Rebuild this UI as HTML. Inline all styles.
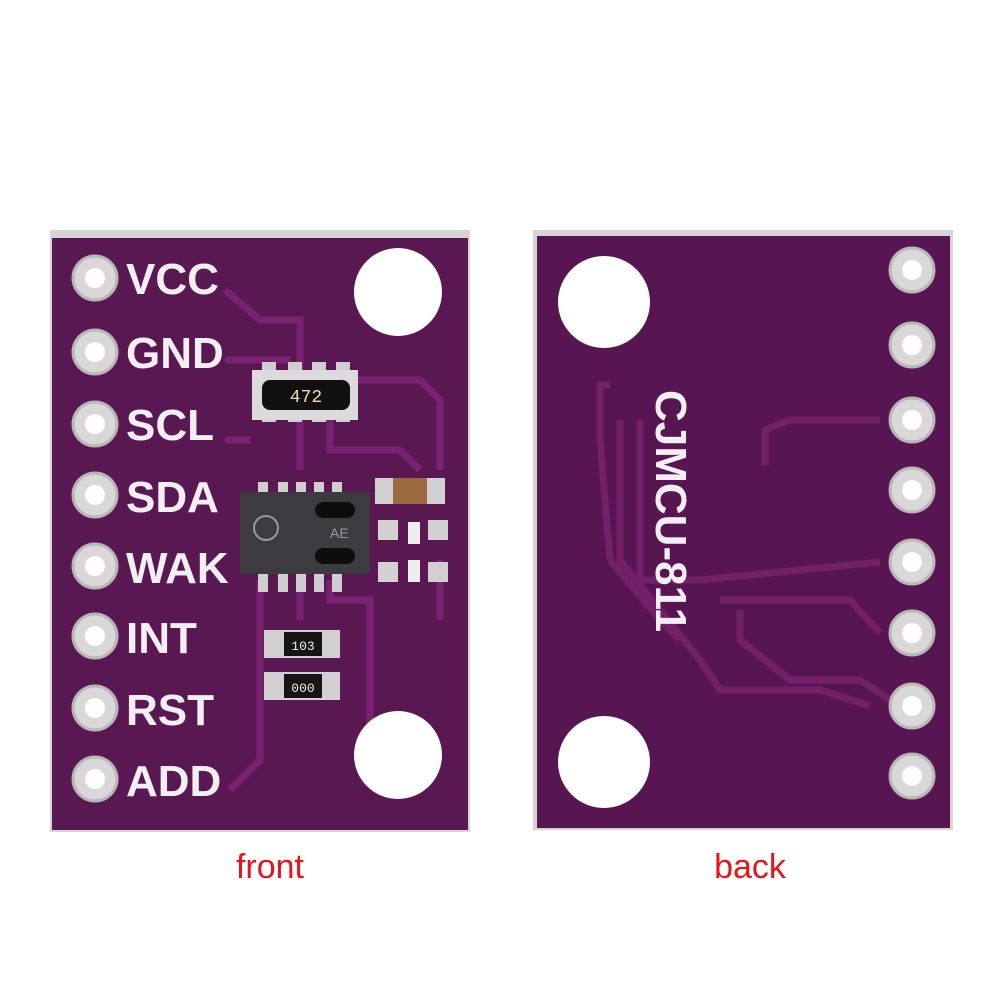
<!DOCTYPE html>
<html><head><style>body{margin:0;background:#fff}svg{display:block}</style></head><body>
<svg width="1001" height="1001" viewBox="0 0 1001 1001" xmlns="http://www.w3.org/2000/svg">
<rect width="1001" height="1001" fill="#fff"/>
<!-- FRONT -->
<rect x="50" y="230" width="420" height="602" fill="#d8d4d6"/>
<rect x="52" y="238" width="416" height="592" fill="#5a1853"/>
<g stroke="#7a2272" stroke-width="7" fill="none">
<path d="M225 290 L260 320 L300 320 L300 370"/>
<path d="M225 360 L290 360"/>
<path d="M355 380 L420 380 L440 400 L440 470"/>
<path d="M300 420 L300 470"/>
<path d="M330 420 L330 450 L360 450 L400 450 L420 470"/>
<path d="M225 440 L250 440"/>
<path d="M260 580 L260 760 L230 790"/>
<path d="M300 580 L300 620"/>
<path d="M330 580 L330 600 L370 600 L370 760"/>
<path d="M440 560 L440 620"/>
</g>
<g fill="#d9d7d8" stroke="#b9b6b8" stroke-width="3">
<circle cx="95" cy="278" r="22"/><circle cx="95" cy="352" r="22"/><circle cx="95" cy="424" r="22"/><circle cx="95" cy="495" r="22"/>
<circle cx="95" cy="566" r="22"/><circle cx="95" cy="636" r="22"/><circle cx="95" cy="708" r="22"/><circle cx="95" cy="779" r="22"/>
</g>
<g fill="#fff">
<circle cx="95" cy="278" r="10"/><circle cx="95" cy="352" r="10"/><circle cx="95" cy="424" r="10"/><circle cx="95" cy="495" r="10"/>
<circle cx="95" cy="566" r="10"/><circle cx="95" cy="636" r="10"/><circle cx="95" cy="708" r="10"/><circle cx="95" cy="779" r="10"/>
<circle cx="398" cy="292" r="44"/><circle cx="398" cy="755" r="44"/>
</g>
<g font-family="Liberation Sans, sans-serif" font-size="44" fill="#f2eef2" font-weight="bold">
<text x="126" y="294">VCC</text><text x="126" y="368">GND</text><text x="126" y="440">SCL</text><text x="126" y="512">SDA</text>
<text x="126" y="583">WAK</text><text x="126" y="653">INT</text><text x="126" y="725">RST</text><text x="126" y="796">ADD</text>
</g>
<!-- resistor array -->
<g fill="#cfcdcf"><rect x="262" y="362" width="14" height="60"/><rect x="288" y="362" width="14" height="60"/><rect x="312" y="362" width="14" height="60"/><rect x="336" y="362" width="14" height="60"/></g>
<rect x="252" y="370" width="106" height="50" fill="#dcdadc"/>
<rect x="262" y="380" width="88" height="30" rx="8" fill="#121010"/>
<text x="306" y="402" font-family="Liberation Mono, monospace" font-size="18" fill="#e8dcc0" text-anchor="middle">472</text>
<!-- sensor chip -->
<g fill="#cfcdcf"><rect x="258" y="482" width="10" height="110"/><rect x="278" y="482" width="10" height="110"/><rect x="296" y="482" width="10" height="110"/><rect x="314" y="482" width="10" height="110"/><rect x="332" y="482" width="10" height="110"/></g>
<rect x="240" y="492" width="130" height="82" fill="#3c3b40"/>
<rect x="315" y="502" width="40" height="16" rx="8" fill="#0e0d0c"/>
<rect x="315" y="548" width="40" height="16" rx="8" fill="#0e0d0c"/>
<text x="330" y="538" font-family="Liberation Sans, sans-serif" font-size="14" fill="#999">AE</text>
<circle cx="266" cy="528" r="12" fill="none" stroke="#999" stroke-width="2"/>
<!-- cap -->
<rect x="375" y="478" width="70" height="26" fill="#d2d0d2"/>
<rect x="393" y="478" width="34" height="26" fill="#9b6a40"/>
<g fill="#d2d0d2"><rect x="378" y="520" width="20" height="20"/><rect x="428" y="520" width="20" height="20"/><rect x="378" y="562" width="20" height="20"/><rect x="428" y="562" width="20" height="20"/></g>
<rect x="408" y="522" width="12" height="22" fill="#eee"/><rect x="408" y="560" width="12" height="22" fill="#eee"/>
<!-- resistors -->
<rect x="264" y="630" width="76" height="28" fill="#d2d0d2"/><rect x="284" y="632" width="38" height="24" fill="#161414"/>
<text x="303" y="650" font-family="Liberation Mono, monospace" font-size="13" fill="#eee" text-anchor="middle">103</text>
<rect x="264" y="672" width="76" height="28" fill="#d2d0d2"/><rect x="284" y="674" width="38" height="24" fill="#161414"/>
<text x="303" y="692" font-family="Liberation Mono, monospace" font-size="13" fill="#eee" text-anchor="middle">000</text>
<!-- BACK -->
<rect x="533" y="230" width="420" height="600" fill="#d8d4d6"/>
<rect x="537" y="236" width="413" height="592" fill="#571651"/>
<g stroke="#722068" stroke-width="7" fill="none">
<path d="M610 385 L600 385 L600 440 L610 560 L660 620 L680 640"/>
<path d="M620 420 L620 560 L700 660 L720 690 L820 690 L870 706"/>
<path d="M640 420 L640 580 L700 580 L880 562"/>
<path d="M765 465 L765 430 L790 420 L880 420"/>
<path d="M720 600 L850 600 L880 633"/>
<path d="M740 610 L740 640 L790 680 L860 680 L890 700"/>
</g>
<g fill="#d9d7d8" stroke="#b9b6b8" stroke-width="3">
<circle cx="912" cy="270" r="22"/><circle cx="912" cy="345" r="22"/><circle cx="912" cy="420" r="22"/><circle cx="912" cy="490" r="22"/>
<circle cx="912" cy="562" r="22"/><circle cx="912" cy="633" r="22"/><circle cx="912" cy="706" r="22"/><circle cx="912" cy="776" r="22"/>
</g>
<g fill="#fff">
<circle cx="912" cy="270" r="10"/><circle cx="912" cy="345" r="10"/><circle cx="912" cy="420" r="10"/><circle cx="912" cy="490" r="10"/>
<circle cx="912" cy="562" r="10"/><circle cx="912" cy="633" r="10"/><circle cx="912" cy="706" r="10"/><circle cx="912" cy="776" r="10"/>
<circle cx="604" cy="302" r="46"/><circle cx="604" cy="762" r="46"/>
</g>
<text transform="translate(656,390) rotate(90)" font-family="Liberation Sans, sans-serif" font-size="44" font-weight="bold" fill="#f2eef2">CJMCU-811</text>
<g font-family="Liberation Sans, sans-serif" font-size="34" fill="#e8141a" text-anchor="middle">
<text x="270" y="878">front</text><text x="750" y="878">back</text>
</g>
</svg>
</body></html>
